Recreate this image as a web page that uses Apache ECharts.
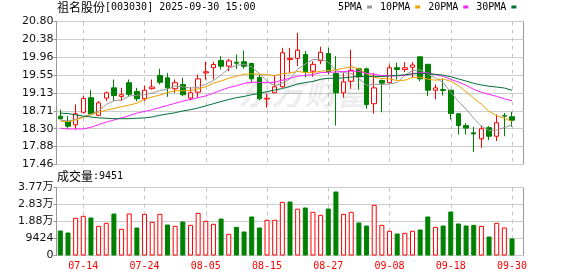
<!DOCTYPE html>
<html><head><meta charset="utf-8">
<script src="https://cdn.jsdelivr.net/npm/echarts@6/dist/echarts.min.js"></script>
<style>html,body{margin:0;padding:0;background:#fff}#c{width:578px;height:276px}</style>
</head><body><div id="c"></div>
<script>
const dates = ['07-09','07-10','07-11','07-14','07-15','07-16','07-17','07-18','07-21','07-22',
  '07-23','07-24','07-25','07-28','07-29','07-30','07-31','08-01','08-04','08-05',
  '08-06','08-07','08-08','08-11','08-12','08-13','08-14','08-15','08-18','08-19',
  '08-20','08-21','08-22','08-25','08-26','08-27','08-28','08-29','09-01','09-02',
  '09-03','09-04','09-05','09-08','09-09','09-10','09-11','09-12','09-15','09-16',
  '09-17','09-18','09-19','09-22','09-23','09-24','09-25','09-26','09-29','09-30'];
const opens = [18.588,18.47,18.387,18.68,19.02,18.61,19.01,19.25,19.05,19.37,
  19.165,18.995,19.23,19.54,19.485,19.23,19.33,19.01,19.15,19.60,
  19.72,19.89,19.756,19.85,19.86,19.82,19.49,18.99,19.135,19.275,
  19.91,19.94,20.03,19.64,19.88,20.05,19.585,19.135,19.405,19.695,
  19.695,18.88,19.42,19.37,19.72,19.68,19.73,19.975,19.80,19.195,
  19.21,19.195,18.645,18.37,18.20,18.06,18.32,18.12,18.60,18.575];
const closes = [18.527,18.355,18.644,19.00,18.644,18.90,19.135,19.07,19.09,19.10,
  18.995,19.195,19.27,19.38,19.25,19.37,19.09,19.135,19.46,19.625,
  19.795,19.756,19.88,19.826,19.756,19.46,18.995,19.005,19.275,20.07,
  19.94,20.13,19.625,19.80,20.08,19.625,19.135,19.39,19.66,19.51,
  18.86,19.25,19.36,19.72,19.68,19.72,19.785,19.46,19.195,19.25,
  19.19,18.65,18.37,18.31,18.175,18.295,18.12,18.435,18.59,18.495];
const lows = [18.51,18.29,18.28,18.65,18.63,18.59,18.94,18.94,18.94,19.055,
  18.94,18.94,19.21,19.33,19.04,19.135,19.055,18.955,19.02,19.44,
  19.445,19.68,19.64,19.695,19.695,19.37,18.96,18.79,19.12,19.25,
  19.60,19.76,19.50,19.51,19.80,19.56,18.37,19.02,19.23,19.21,
  18.76,18.65,18.68,19.35,19.445,19.615,19.485,19.405,19.055,18.98,
  19.07,18.51,18.16,18.16,17.75,17.85,18.03,18.005,18.12,18.34];
const highs = [18.745,18.59,18.86,19.055,19.195,18.94,19.165,19.445,19.25,19.445,
  19.25,19.305,19.445,19.695,19.60,19.445,19.485,19.265,19.56,19.86,
  19.86,19.99,19.93,20.03,20.12,19.835,19.56,19.11,19.55,20.185,
  20.185,20.535,20.11,19.87,20.21,20.185,19.99,19.60,20.14,19.72,
  19.72,19.60,19.445,19.795,19.835,19.85,19.85,19.99,19.80,19.33,
  19.46,19.21,18.665,18.43,18.34,18.37,18.355,18.63,18.665,18.69];
const volumes = [13860,12750,20880,22000,21070,16450,18110,23280,14780,23280,
  15520,23100,18660,23100,17190,16450,18850,17000,23650,19220,
  17560,20500,12010,15890,13300,21620,15520,19780,19780,29750,
  29930,25950,26610,24220,22560,26050,35480,23100,24220,18290,
  16630,28100,17000,13690,12200,12570,13690,14410,21620,15870,
  16630,24390,17740,16630,17000,16450,10530,18110,15520,9451];
const ma5 = [18.50,18.47,18.52,18.58,18.634,18.709,18.865,18.950,18.968,19.059,
  19.078,19.090,19.130,19.188,19.218,19.293,19.272,19.245,19.261,19.336,
  19.421,19.554,19.703,19.776,19.803,19.736,19.583,19.408,19.298,19.361,
  19.457,19.684,19.808,19.913,19.915,19.852,19.653,19.606,19.578,19.464,
  19.311,19.334,19.328,19.340,19.374,19.546,19.653,19.673,19.568,19.482,
  19.376,19.149,18.931,18.754,18.539,18.360,18.254,18.267,18.323,18.387];
const ma10 = [18.47,18.46,18.50,18.56,18.62,18.68,18.73,18.77,18.81,18.847,
  18.893,18.977,19.040,19.078,19.139,19.186,19.181,19.188,19.225,19.277,
  19.357,19.413,19.474,19.519,19.569,19.578,19.569,19.556,19.537,19.582,
  19.596,19.634,19.608,19.606,19.638,19.655,19.669,19.707,19.746,19.690,
  19.582,19.494,19.467,19.459,19.419,19.429,19.494,19.501,19.454,19.428,
  19.461,19.401,19.302,19.161,19.011,18.868,18.702,18.599,18.539,18.463];
const ma20 = [18.31,18.29,18.29,18.29,18.33,18.39,18.45,18.50,18.55,18.60,
  18.66,18.70,18.74,18.79,18.84,18.89,18.94,18.98,19.02,19.062,
  19.125,19.195,19.257,19.298,19.354,19.382,19.375,19.372,19.381,19.429,
  19.477,19.523,19.541,19.562,19.604,19.616,19.619,19.631,19.641,19.636,
  19.589,19.564,19.538,19.532,19.529,19.542,19.581,19.604,19.600,19.559,
  19.521,19.447,19.385,19.310,19.215,19.148,19.098,19.050,18.996,18.946];
const ma30 = [18.66,18.65,18.62,18.59,18.57,18.55,18.54,18.53,18.53,18.53,
  18.54,18.55,18.57,18.61,18.64,18.67,18.71,18.74,18.78,18.83,
  18.88,18.93,18.98,19.02,19.05,19.09,19.12,19.16,19.20,19.235,
  19.282,19.341,19.374,19.401,19.449,19.473,19.473,19.483,19.502,19.516,
  19.512,19.513,19.516,19.528,19.542,19.554,19.577,19.588,19.579,19.566,
  19.546,19.509,19.459,19.409,19.356,19.317,19.288,19.269,19.246,19.194];
const priceTicks = [17.46,17.8775,18.295,18.7125,19.13,19.5475,19.965,20.3825,20.80];
const priceTickLabels = ['17.46','17.88','18.30','18.71','19.13','19.55','19.96','20.38','20.80'];
const volTickLabels = ['0','9424','1.88万','2.83万','3.77万'];
const xTickLabels = ['07-14','07-24','08-05','08-15','08-27','09-08','09-18','09-30'];
const maNames = ['5PMA','10PMA','20PMA','30PMA'];

const RED = '#ff0000', GREEN = '#008000';
const GRID_L = 56.5, GRID_W = 467;
const catData = dates.concat(['']);
const showAt = (idx, val) => xTickLabels.indexOf(val) >= 0;

const candleData = dates.map((d, i) => [opens[i], closes[i], lows[i], highs[i]]);
const volData = volumes.map((v, i) => {
  const up = i === 0 ? closes[0] >= opens[0] : closes[i] >= closes[i - 1];
  return { value: v, itemStyle: { color: up ? '#fff' : GREEN, borderColor: up ? RED : GREEN, borderWidth: 1 } };
});
const nearestLabel = (v, ticks, labels) => {
  let best = 0;
  ticks.forEach((t, i) => { if (Math.abs(t - v) < Math.abs(ticks[best] - v)) best = i; });
  return labels[best];
};
const maColors = ['#999999', '#f0a000', '#ff22ff', '#007038'];
const maData = [ma5, ma10, ma20, ma30];
const richTxt = {
  a: { fontFamily: 'Noto Sans CJK SC', fontSize: 12, color: '#000', fontWeight: 'normal' },
  b: { fontFamily: 'DejaVu Sans Mono', fontSize: 10, color: '#000', fontWeight: 'normal' }
};
const vDash = { show: true, interval: showAt, alignWithLabel: true,
  lineStyle: { color: '#c4c4c4', type: [4, 4], width: 1 } };

const chart = echarts.init(document.getElementById('c'), null, { renderer: 'canvas' });
chart.setOption({
  animation: false,
  backgroundColor: '#fff',
  title: [
    { left: 57, top: 1, padding: 0,
      text: '{a|祖名股份}{b|[003030] 2025-09-30 15:00}',
      textStyle: { fontWeight: 'normal', rich: richTxt } },
    { left: 57, top: 170, padding: 0,
      text: '{a|成交量}{b|:' + volumes[volumes.length - 1] + '}',
      textStyle: { fontWeight: 'normal', rich: richTxt } }
  ],
  legend: {
    left: 338, top: 2, padding: 0, itemWidth: 5, itemHeight: 3, itemGap: 8,
    align: 'right', icon: 'rect', selectedMode: false,
    data: maNames,
    textStyle: { fontFamily: 'DejaVu Sans Mono', fontSize: 10, color: '#000' }
  },
  graphic: [{
    type: 'text', left: 238, top: 76, z: 1, silent: true,
    style: { text: '东方财富', fill: 'rgba(0,0,0,0.07)', font: 'italic bold 33px "Noto Sans CJK SC"' }
  }],
  grid: [
    { left: GRID_L, top: 21.5, width: GRID_W, height: 143, show: true, borderColor: '#999', borderWidth: 1 },
    { left: GRID_L, top: 187.5, width: GRID_W, height: 68, show: true, borderColor: '#999', borderWidth: 1 }
  ],
  xAxis: [
    { type: 'category', gridIndex: 0, data: catData, boundaryGap: true,
      axisLine: { show: false }, axisTick: { show: false }, axisLabel: { show: false },
      splitLine: vDash },
    { type: 'category', gridIndex: 1, data: catData, boundaryGap: true,
      axisLine: { show: false }, axisTick: { show: false },
      axisLabel: { interval: showAt, color: RED, fontFamily: 'DejaVu Sans Mono', fontSize: 10, margin: 6 },
      splitLine: vDash }
  ],
  yAxis: [
    { type: 'value', gridIndex: 0, min: 17.46, max: 20.80, scale: true,
      axisLine: { show: true, lineStyle: { color: '#999' } },
      axisTick: { show: true, length: 3, lineStyle: { color: '#999' }, customValues: priceTicks },
      axisLabel: { customValues: priceTicks, margin: 3, color: '#111', fontFamily: 'DejaVu Sans', fontSize: 11,
        formatter: v => nearestLabel(v, priceTicks, priceTickLabels) },
      splitLine: { show: true, lineStyle: { color: '#cccccc', width: 1 } } },
    { type: 'value', gridIndex: 1, min: 0, max: 37696, interval: 9424,
      axisLine: { show: true, lineStyle: { color: '#999' } },
      axisTick: { show: true, length: 3, lineStyle: { color: '#999' } },
      axisLabel: { margin: 3, color: '#111', fontFamily: 'DejaVu Sans, Noto Sans CJK SC', fontSize: 11,
        formatter: v => volTickLabels[Math.round(v / 9424)] },
      splitLine: { show: true, lineStyle: { color: '#cccccc', width: 1 } } }
  ],
  series: [
    { type: 'candlestick', xAxisIndex: 0, yAxisIndex: 0, data: candleData, barWidth: 5, z: 3,
      itemStyle: { color: '#fff', color0: GREEN, borderColor: RED, borderColor0: GREEN, borderWidth: 1 } }
  ].concat(maNames.map((n, k) => ({
    name: n, type: 'line', xAxisIndex: 0, yAxisIndex: 0, data: maData[k], symbol: 'none', showSymbol: false,
    z: 4, lineStyle: { width: 1, color: maColors[k] }, itemStyle: { color: maColors[k] }
  }))).concat([
    { type: 'bar', xAxisIndex: 1, yAxisIndex: 1, data: volData, barWidth: 5 }
  ])
});
</script></body></html>
